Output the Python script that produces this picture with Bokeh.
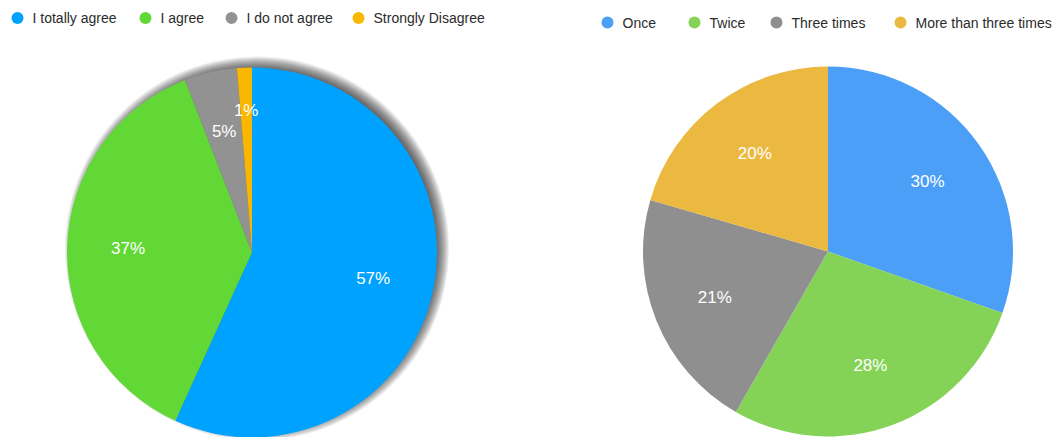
import math
from bokeh.plotting import figure
from bokeh.models import Range1d, ColumnDataSource
from bokeh.core.properties import value
from bokeh.embed import file_html
from bokeh.resources import INLINE

# ---- data ----
agree_categories = ["I totally agree", "I agree", "I do not agree", "Strongly Disagree"]
agree_values = [56.8, 37.3, 4.6, 1.3]
agree_colors = ["#00A2FF", "#61D836", "#929292", "#FAB700"]

freq_categories = ["Once", "Twice", "Three times", "More than three times"]
freq_values = [30.4, 27.9, 21.2, 20.5]
freq_colors = ["#4B9FF6", "#84D356", "#8F8F8F", "#EBB840"]

W, H = 1055, 437
FONT = "Liberation Sans"

p = figure(width=W, height=H, output_backend="svg", toolbar_location=None,
           x_range=Range1d(0, W), y_range=Range1d(0, H), min_border=0)
p.axis.visible = False
p.grid.visible = False
p.outline_line_color = None
p.background_fill_color = "white"
p.border_fill_color = "white"


def Y(py):
    return H - py


def pie(cx, cy, r, vals, colors, label_r, shadow=False, label_r_override=None):
    total = float(sum(vals))
    cum = 0.0
    starts, ends, lx, ly, labels = [], [], [], [], []
    for i, v in enumerate(vals):
        a0 = cum / total
        cum += v
        a1 = cum / total
        starts.append(math.pi / 2 - a0 * 2 * math.pi)
        ends.append(math.pi / 2 - a1 * 2 * math.pi)
        mid = math.pi / 2 - (a0 + a1) / 2 * 2 * math.pi
        lr = label_r
        if label_r_override and i in label_r_override:
            lr = label_r_override[i]
        lx.append(cx + lr * math.cos(mid))
        ly.append(cy + lr * math.sin(mid))
        labels.append(f"{round(v / total * 100)}%")
    if shadow:
        for k in range(14):
            p.circle(x=cx + 5, y=cy + 4, radius=r + 7 - k, fill_color="#1e1e1e",
                     fill_alpha=0.075, line_color=None)
    src = ColumnDataSource(dict(start=starts, end=ends, color=colors))
    p.wedge(x=cx, y=cy, radius=r, start_angle="start", end_angle="end",
            direction="clock", fill_color="color", line_color=None, source=src)
    lsrc = ColumnDataSource(dict(x=lx, y=ly, t=labels))
    p.text(x="x", y="y", text="t", source=lsrc, text_color="white",
           text_font=value(FONT), text_font_size="17px",
           text_align="center", text_baseline="middle")


def legend(items, colors, xs_circle, y):
    src = ColumnDataSource(dict(x=xs_circle, y=[Y(y)] * len(items), c=colors,
                                tx=[x + 15 for x in xs_circle], t=items))
    p.scatter(x="x", y="y", size=12, fill_color="c", line_color=None, source=src)
    p.text(x="tx", y="y", text="t", source=src, text_color="#2b2b2b",
           text_font=value(FONT), text_font_size="14px",
           text_align="left", text_baseline="middle")


pie(251.5, Y(252), 185, agree_values, agree_colors, 124, shadow=True,
    label_r_override={3: 142})
pie(827.5, Y(251), 185, freq_values, freq_colors, 122)

legend(agree_categories, agree_colors, [17, 145, 231, 358], 17.5)
legend(freq_categories, freq_colors, [607, 694, 776, 900], 22)

open("out.html", "w").write(file_html(p, INLINE))
